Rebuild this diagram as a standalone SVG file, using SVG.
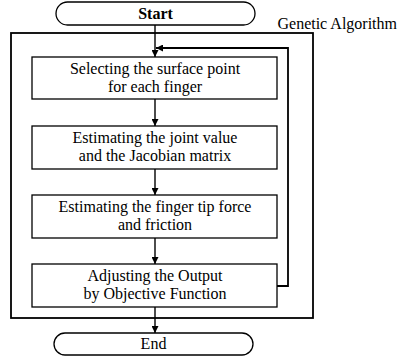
<svg xmlns="http://www.w3.org/2000/svg" width="401" height="358" viewBox="0 0 401 358">
<defs>
<style>
text{font-family:'Liberation Serif','Times New Roman','DejaVu Serif',serif;font-size:16px;fill:#000;text-anchor:middle}
.box{fill:#fff;stroke:#000;stroke-width:1.3}
.term{fill:#fff;stroke:#000;stroke-width:1.3}
.ln{fill:none;stroke:#000;stroke-width:1.4}
.thick{fill:none;stroke:#000;stroke-width:1.8}
</style>
<marker id="ah" viewBox="0 0 10 10" refX="10" refY="5" markerWidth="7" markerHeight="7" markerUnits="userSpaceOnUse" orient="auto">
<path d="M0,0 L10,5 L0,10 z" fill="#000"/>
</marker>
</defs>
<rect id="ga-frame" x="11" y="33" width="302" height="285" class="thick"/>
<text x="397" y="29" font-family="Liberation Serif, serif" style="text-anchor:end">Genetic Algorithm</text>
<g id="connectors">
<line x1="155" y1="25" x2="155" y2="57" class="ln" marker-end="url(#ah)"/>
<line x1="155" y1="99" x2="155" y2="126" class="ln" marker-end="url(#ah)"/>
<line x1="155" y1="169" x2="155" y2="195" class="ln" marker-end="url(#ah)"/>
<line x1="155" y1="238" x2="155" y2="264" class="ln" marker-end="url(#ah)"/>
<line x1="155" y1="307" x2="155" y2="333" class="ln" marker-end="url(#ah)"/>
<polyline points="277,286 288,286 288,48 156,48" class="thick" marker-end="url(#ah)"/>
</g>
<g id="start">
<rect x="56" y="2" width="199" height="23" rx="11.5" class="term"/>
<text x="155.5" y="19" style="font-weight:bold">Start</text>
</g>
<g id="step1">
<rect x="32" y="57" width="245" height="42" class="box"/>
<text x="155" y="74">Selecting the surface point</text>
<text x="155" y="92">for each finger</text>
</g>
<g id="step2">
<rect x="32" y="126" width="245" height="43" class="box"/>
<text x="155" y="143">Estimating the joint value</text>
<text x="155" y="161">and the Jacobian matrix</text>
</g>
<g id="step3">
<rect x="32" y="195" width="245" height="43" class="box"/>
<text x="155" y="212">Estimating the finger tip force</text>
<text x="155" y="230">and friction</text>
</g>
<g id="step4">
<rect x="32" y="264" width="245" height="43" class="box"/>
<text x="155" y="281">Adjusting the Output</text>
<text x="155" y="299">by Objective Function</text>
</g>
<g id="end">
<rect x="54" y="333" width="199" height="22" rx="11" class="term"/>
<text x="153.5" y="349">End</text>
</g>
</svg>
